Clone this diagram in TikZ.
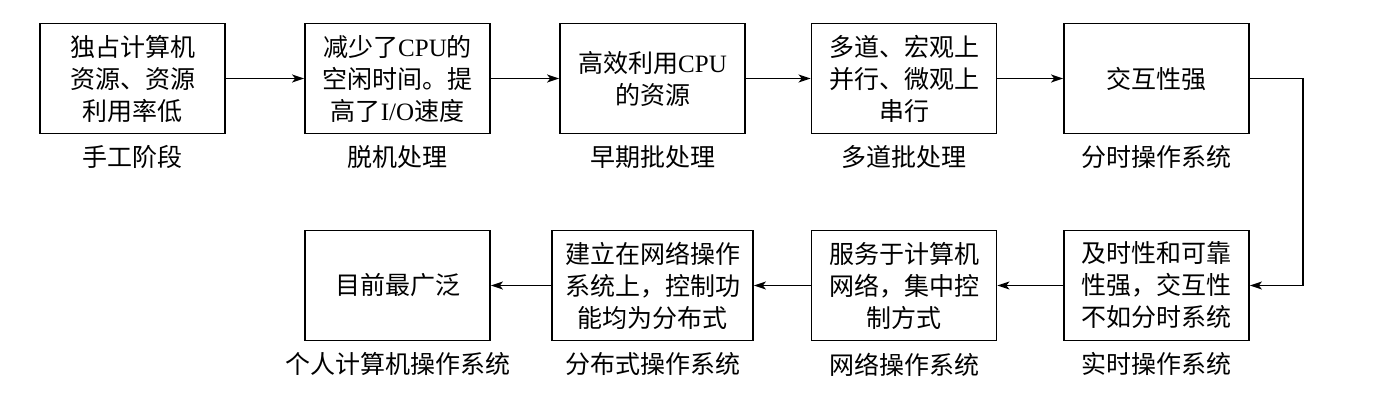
\documentclass[tikz,border=0pt]{standalone}
\usepackage{fontspec}
\setmainfont{Liberation Serif}
\newfontfamily\cjk{Noto Sans CJK SC}
\usetikzlibrary{arrows.meta}
\newcommand{\ltn}[1]{{\rmfamily #1}}

\begin{document}
\begin{tikzpicture}[x=1pt,y=1pt,font=\fontsize{25}{32}\selectfont\cjk,
	stagebox/.style={draw,line width=1.8pt,minimum height=110pt,align=center,inner sep=2pt},
	stagename/.style={inner sep=0pt},
	flow/.style={line width=1.6pt,-{Stealth[length=12pt,width=8pt,inset=3pt]}}]
	\useasboundingbox (0,0) rectangle (1395,400);
	% upper row
	\foreach \i/\xpos/\w/\body/\name in {
		1/132.5/185/{独占计算机\\资源、资源\\利用率低}/{手工阶段},
		2/397.5/185/{减少了\ltn{CPU}的\\空闲时间。提\\高了\ltn{I/O}速度}/{脱机处理},
		3/652.5/185/{高效利用\ltn{CPU}\\的资源}/{早期批处理},
		4/904/185/{多道、宏观上\\并行、微观上\\串行}/{多道批处理},
		5/1156.5/185/{交互性强}/{分时操作系统}} {
		\node[stagebox,minimum width=\w pt] (top\i) at (\xpos,321.5) {\body};
		\node[stagename] (topname\i) at ([yshift=-23pt]top\i.south) {\name};
	}
	% lower row, read right to left
	\foreach \i/\xpos/\w/\body/\name in {
		1/1156.5/185/{及时性和可靠\\性强，交互性\\不如分时系统}/{实时操作系统},
		2/904/185/{服务于计算机\\网络，集中控\\制方式}/{网络操作系统},
		3/652.5/201/{建立在网络操作\\系统上，控制功\\能均为分布式}/{分布式操作系统},
		4/397.5/185/{目前最广泛}/{个人计算机操作系统}} {
		\node[stagebox,minimum width=\w pt] (bot\i) at (\xpos,114.5) {\body};
		\node[stagename] (botname\i) at ([yshift=-23pt]bot\i.south) {\name};
	}
	\coordinate (turn) at (1303,321.5);
	\foreach \a/\b in {1/2,2/3,3/4,4/5} {
		\draw[flow] (top\a) -- (top\b);
	}
	\draw[flow] (top5.east) -- (turn) |- (bot1.east);
	\foreach \a/\b in {1/2,2/3,3/4} {
		\draw[flow] (bot\a) -- (bot\b);
	}
\end{tikzpicture}
\end{document}
